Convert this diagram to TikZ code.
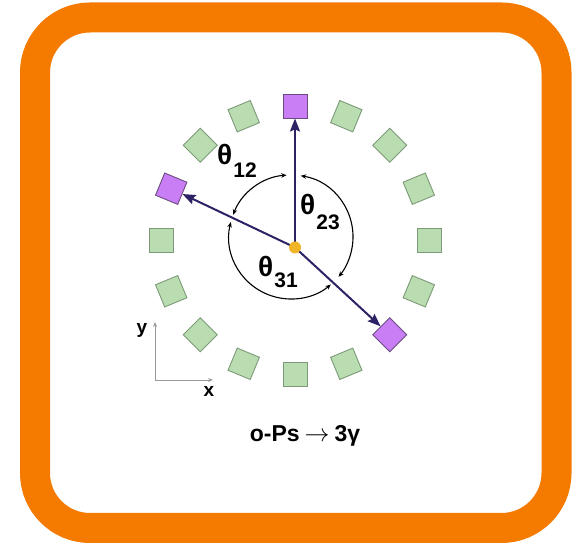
\documentclass[tikz,border=0pt]{standalone}
\usepackage{fontspec}
\setmainfont{Liberation Sans}
\usetikzlibrary{arrows.meta}
\definecolor{frameorange}{HTML}{F47A00}
\definecolor{detgreen}{HTML}{B9DDB1}
\definecolor{detgreenline}{HTML}{7C9A78}
\definecolor{detpurple}{HTML}{C97EF5}
\definecolor{detpurpleline}{HTML}{6B4C80}
\definecolor{navy}{HTML}{2E2266}
\definecolor{dotyellow}{HTML}{F0B429}
\newcommand{\fsz}[1]{\fontsize{#1}{#1}\selectfont}
\tikzset{
  det/.style={rectangle, minimum size=24pt, inner sep=0pt, line width=0.9pt},
  greendet/.style={det, fill=detgreen, draw=detgreenline},
  purpledet/.style={det, fill=detpurple, draw=detpurpleline},
  gamma/.style={draw=navy, line width=2pt, -{Stealth[length=13pt,width=10pt,inset=2pt]}},
  anglearc/.style={draw=black, line width=1.1pt, {Stealth[length=5.5pt,width=4.5pt]}-{Stealth[length=5.5pt,width=4.5pt]}},
  axis/.style={draw=gray!80, line width=0.9pt, -{Stealth[length=5pt,width=4pt]}},
  lbl/.style={inner sep=0pt, font=\bfseries},
}
\begin{document}
\begin{tikzpicture}[x=1pt,y=1pt]
\useasboundingbox (0,0) rectangle (572,545);
% frame
\draw[frameorange, line width=30pt, rounded corners=55pt] (35,17) rectangle (556.5,527.5);
% detectors ring
\begin{scope}[shift={(295,305)}]
  \foreach \i in {1,2,3,4,5,7,8,9,10,11,12,14,15}
    \node[greendet, rotate=-\i*22.5] (d\i) at ({90-\i*22.5}:134) {};
  \foreach \i in {0,6,13}
    \node[purpledet, rotate=-\i*22.5] (d\i) at ({90-\i*22.5}:134) {};
\end{scope}
% origin of photons
\coordinate (o) at (295,297.5);
\draw[gamma] (o) -- (d0);
\draw[gamma] (o) -- (d13);
\draw[gamma] (o) -- (d6);
\node[circle, fill=dotyellow, minimum size=12pt, inner sep=0pt] (dot) at (o) {};
% angle arcs
\coordinate (ac) at (291,308);
\draw[anglearc] ([shift={(159:62)}]ac) arc[start angle=159, end angle=94, radius=62];
\draw[anglearc] ([shift={(81:62)}]ac) arc[start angle=81, end angle=-40, radius=62];
\draw[anglearc] ([shift={(166:62)}]ac) arc[start angle=166, end angle=310, radius=62];
% angle labels
\node[lbl, anchor=base west] (t12) at (217,380) {\fsz{28}θ\hspace{1pt}\raisebox{-13pt}{\fsz{21}12}};
\node[lbl, anchor=base west] (t23) at (300,330) {\fsz{28}θ\hspace{1pt}\raisebox{-15pt}{\fsz{21}23}};
\node[lbl, anchor=base west] (t31) at (258,268) {\fsz{28}θ\hspace{1pt}\raisebox{-11pt}{\fsz{21}31}};
% axes
\coordinate (ax0) at (155,165);
\coordinate (axy) at (155,223);
\coordinate (axx) at (213,165);
\draw[axis] (ax0) -- (axy);
\draw[axis] (ax0) -- (axx);
\node[lbl, font=\bfseries\fsz{19}] (ylab) at (142,215) {y};
\node[lbl, font=\bfseries\fsz{19}] (xlab) at (209,154) {x};
% caption
\node[lbl, anchor=base, font=\bfseries\fsz{23}] (cap) at (305,103) {o-Ps\hspace{5pt}$\rightarrow$\hspace{5pt}3γ};
\end{tikzpicture}
\end{document}
